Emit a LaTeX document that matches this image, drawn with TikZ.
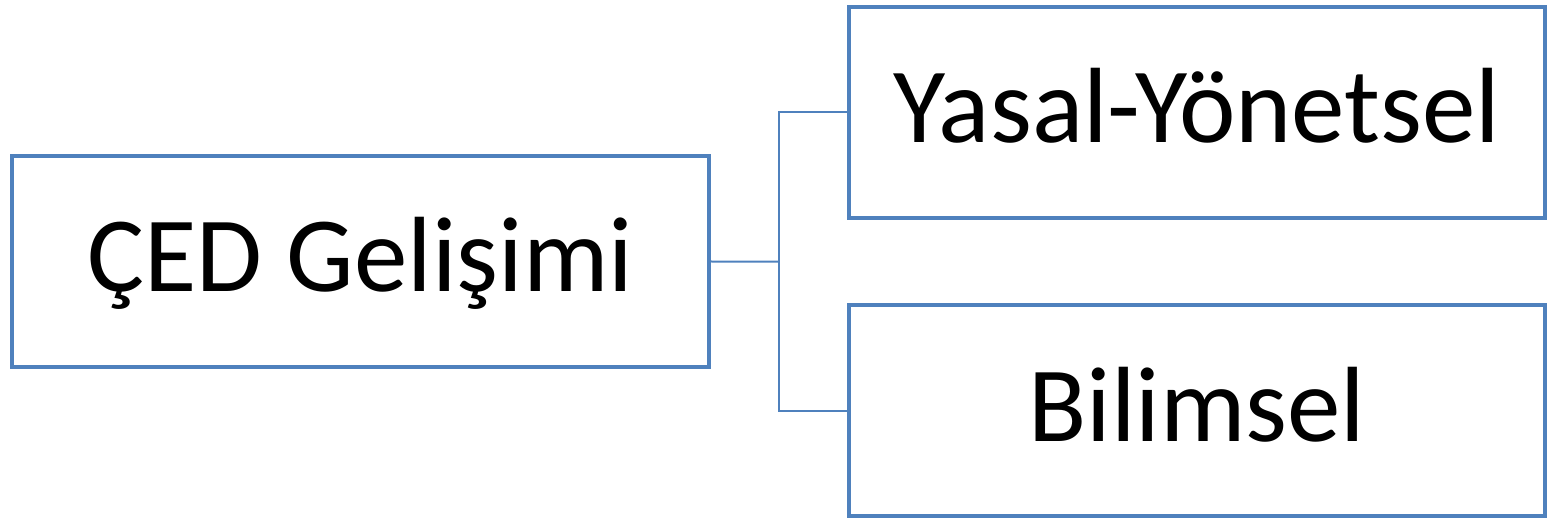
\documentclass[tikz,border=0pt]{standalone}
\usepackage{fontspec}
\setmainfont{Carlito}
\definecolor{bx}{HTML}{4F81BD}
\begin{document}
\begin{tikzpicture}[x=1pt,y=-1pt,
  box/.style={draw=bx, line width=4pt, minimum width=697pt, minimum height=211pt, inner sep=0pt,
    font=\fontsize{107}{128}\selectfont, text height=61pt, text depth=0pt},
  conn/.style={draw=bx, line width=2pt}]
\useasboundingbox (0,0) rectangle (1547,518);
\node[box] (a) at (360.5,261.5) {ÇED Gelişimi};
\node[box, minimum width=696pt] (b) at (1197,112.5) {Yasal-Yönetsel};
\node[box, minimum width=696pt] (c) at (1197,410.5) {Bilimsel};
\coordinate (j) at (779,261.7);
\draw[conn] (a.east) -- (j);
\draw[conn] (b.west) -| (j) |- (c.west);
\end{tikzpicture}
\end{document}
